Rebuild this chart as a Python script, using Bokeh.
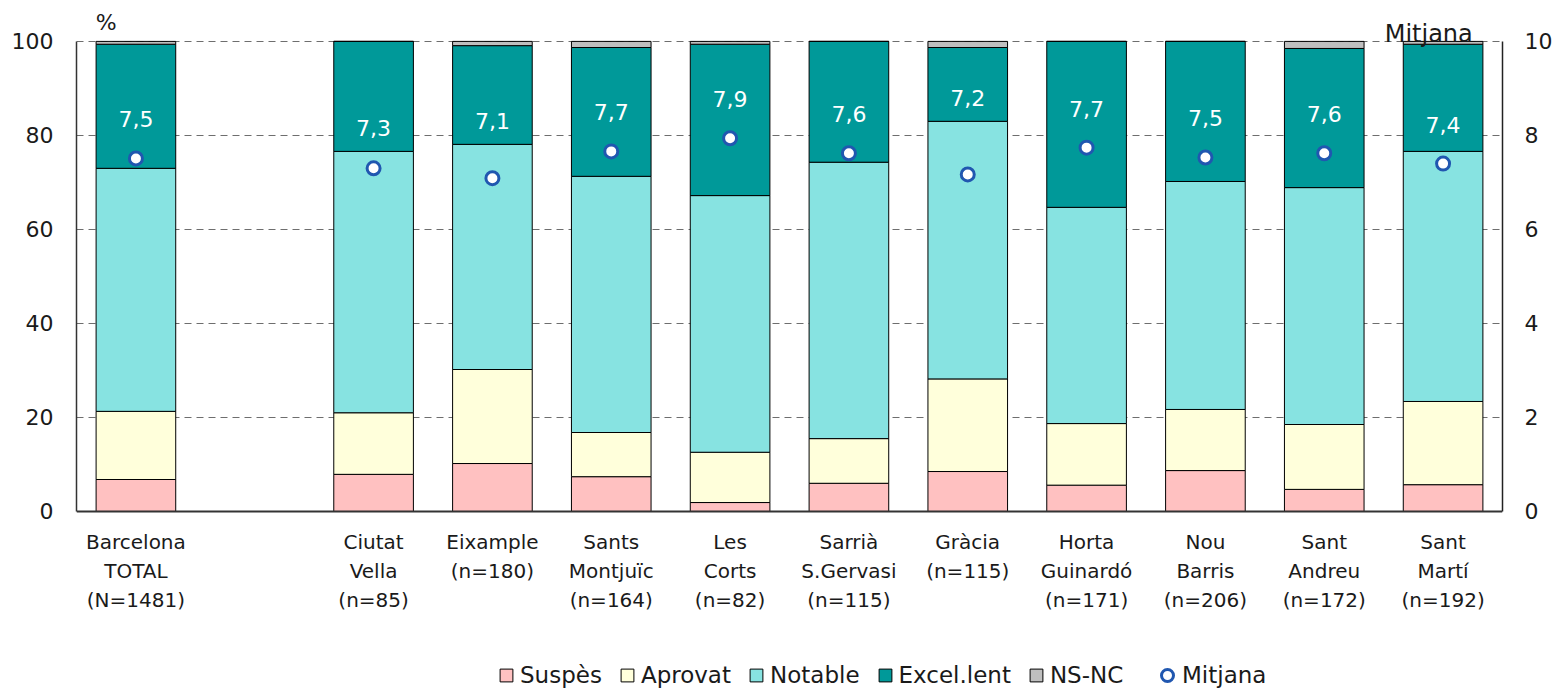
from bokeh.plotting import figure
from bokeh.models import ColumnDataSource, Range1d, LinearAxis, FixedTicker, Label, Legend, LegendItem, FactorRange
from bokeh.core.properties import value
from bokeh.embed import file_html
from bokeh.resources import INLINE

# ---------------- data ----------------
districtes = ["Barcelona\nTOTAL\n(N=1481)", "Ciutat\nVella\n(n=85)", "Eixample\n(n=180)",
              "Sants\nMontjuïc\n(n=164)", "Les\nCorts\n(n=82)", "Sarrià\nS.Gervasi\n(n=115)",
              "Gràcia\n(n=115)", "Horta\nGuinardó\n(n=171)", "Nou\nBarris\n(n=206)",
              "Sant\nAndreu\n(n=172)", "Sant\nMartí\n(n=192)"]
suspes    = [6.8, 7.9, 10.2, 7.4, 1.9, 6.0, 8.5, 5.6, 8.7, 4.7, 5.7]
aprovat   = [14.5, 13.1, 20.0, 9.4, 10.7, 9.5, 19.7, 13.1, 13.0, 13.8, 17.7]
notable   = [51.7, 55.6, 47.9, 54.5, 54.6, 58.8, 54.8, 46.0, 48.5, 50.4, 53.2]
excellent = [26.4, 23.4, 21.0, 27.4, 32.2, 25.7, 15.7, 35.3, 29.8, 29.6, 22.8]
nsnc      = [0.6, 0.0, 0.9, 1.3, 0.6, 0.0, 1.3, 0.0, 0.0, 1.5, 0.6]
mitjana   = [7.51, 7.30, 7.09, 7.66, 7.94, 7.62, 7.17, 7.74, 7.53, 7.62, 7.40]
series    = ["Suspès", "Aprovat", "Notable", "Excel.lent", "NS-NC"]
colors    = ["#FFC1C1", "#FFFFDB", "#87E3E1", "#009999", "#BFBFBF"]
y_ticks_left  = [0, 20, 40, 60, 80, 100]
y_ticks_right = [0, 2, 4, 6, 8, 10]

FONT = "DejaVu Sans"
TXT = "#1a1a1a"

factors = [districtes[0], " "] + districtes[1:]

labels = [f"{m:.1f}".replace(".", ",") for m in mitjana]
label_y = [max(m * 10 + 8.3, s + a + n + 5.0) for m, s, a, n in zip(mitjana, suspes, aprovat, notable)]

source = ColumnDataSource(dict(district=districtes, s0=suspes, s1=aprovat, s2=notable,
                               s3=excellent, s4=nsnc, mitjana=mitjana, label=labels, label_y=label_y))

# the frame extends below 0 so the category labels and legend live inside it
Y_LO, Y_HI = -37.66, 107
p = figure(width=1555, height=688, x_range=FactorRange(*factors, range_padding=0),
           y_range=Range1d(Y_LO, Y_HI), output_backend="svg", toolbar_location=None,
           min_border_left=76, min_border_right=53, min_border_top=8, min_border_bottom=0)
p.outline_line_color = None
p.background_fill_color = "white"
p.border_fill_color = "white"
p.extra_y_ranges = {"mit": Range1d(Y_LO / 10, Y_HI / 10)}

bars = p.vbar_stack(["s0", "s1", "s2", "s3", "s4"], x="district", width=0.67, color=colors,
                    line_color="black", line_width=1, source=source)

circ = p.scatter(x="district", y="mitjana", y_range_name="mit", source=source, size=13,
                 marker="circle", fill_color="white", line_color="#2057B0", line_width=3)

p.text(x="district", y="label_y", text="label", source=source, text_color="white",
       text_font=value(FONT), text_font_size="22px", text_align="center", text_baseline="middle")

# axes
p.yaxis.ticker = FixedTicker(ticks=y_ticks_left)
p.yaxis.bounds = (0, 100)
ra = LinearAxis(y_range_name="mit", ticker=FixedTicker(ticks=y_ticks_right), bounds=(0, 10))
p.add_layout(ra, "right")
for ax in [p.yaxis[0], ra]:
    ax.major_tick_out = 0
    ax.major_tick_in = 0
    ax.minor_tick_out = 0
    ax.minor_tick_in = 0
    ax.major_label_text_font = FONT
    ax.major_label_text_font_size = "22px"
    ax.major_label_text_color = TXT
    ax.axis_line_color = "#333333"
    ax.axis_line_width = 1.5
p.yaxis[0].major_label_standoff = 23
ra.major_label_standoff = 22
ra.axis_line_color = "#222222"

xa = p.xaxis[0]
xa.fixed_location = 0
xa.major_tick_out = 0
xa.major_tick_in = 0
xa.major_label_text_font = FONT
xa.major_label_text_font_size = "20px"
xa.major_label_text_color = TXT
xa.major_label_text_line_height = 1.2
xa.major_label_standoff = 19
xa.axis_line_color = "#333333"
xa.axis_line_width = 2

p.xgrid.grid_line_color = None
p.ygrid.ticker = FixedTicker(ticks=[20, 40, 60, 80, 100])
p.ygrid.grid_line_color = "#6e6e6e"
p.ygrid.grid_line_dash = "7 5"
p.ygrid.grid_line_width = 1

p.add_layout(Label(x=0.25, y=100, text="%", y_offset=19, text_font=FONT, text_font_size="22px",
                   text_color=TXT, text_align="center", text_baseline="alphabetic"))
p.add_layout(Label(x=11.75, y=100, text="Mitjana", y_offset=7, text_font=FONT, text_font_size="24px",
                   text_color=TXT, text_align="right", text_baseline="alphabetic"))

# legends
items = [LegendItem(label=series[i], renderers=[bars[i]]) for i in range(5)]
leg1 = Legend(items=items, orientation="horizontal", location=(422, 0), padding=0, margin=0,
              spacing=17, label_standoff=6, glyph_width=16, glyph_height=16,
              label_text_font=FONT, label_text_font_size="23px", label_text_color=TXT,
              border_line_color=None, background_fill_alpha=0)
p.add_layout(leg1, "center")
leg2 = Legend(items=[LegendItem(label="Mitjana", renderers=[circ])], orientation="horizontal",
              location=(1152 - 76, -2), padding=0, margin=0, label_standoff=-3,
              glyph_width=30, glyph_height=30,
              label_text_font=FONT, label_text_font_size="23px", label_text_color=TXT,
              border_line_color=None, background_fill_alpha=0)
p.add_layout(leg2, "center")

open("out.html", "w").write(file_html(p, INLINE))
